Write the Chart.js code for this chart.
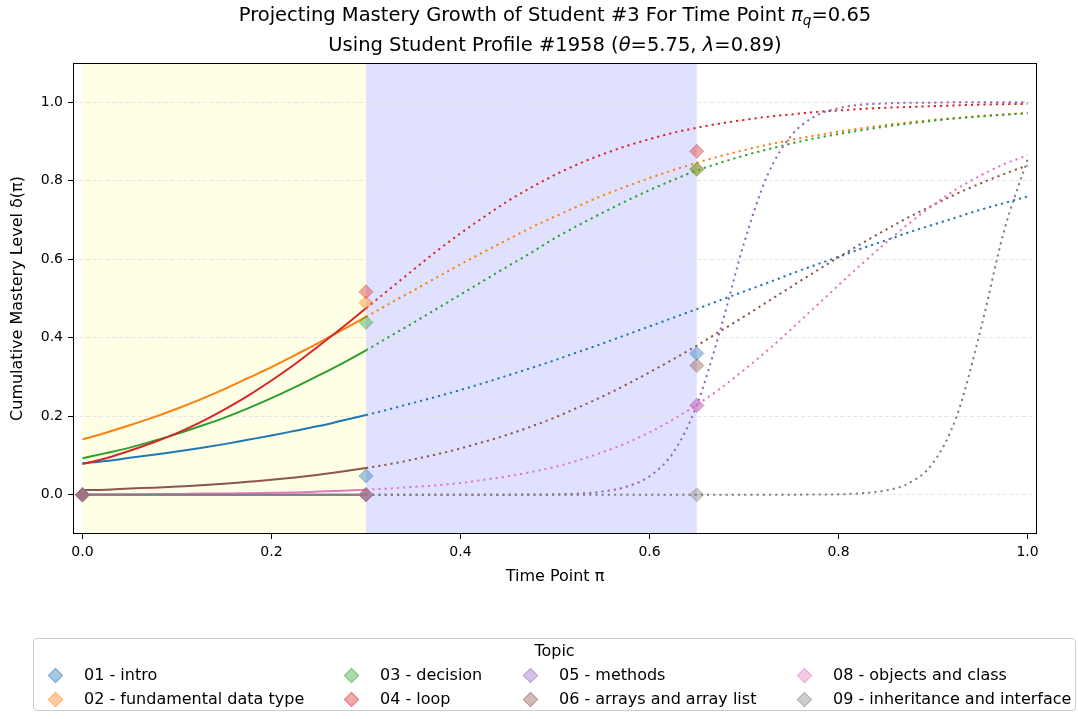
<!DOCTYPE html>
<html>
<head>
<meta charset="utf-8">
<script src="https://cdn.jsdelivr.net/npm/chart.js@4.4.1/dist/chart.umd.min.js"></script>
<style>
  html, body { margin: 0; padding: 0; background: #fff; }
  #wrap { position: relative; width: 1078px; height: 719px; overflow: hidden; font-family: 'DejaVu Sans', sans-serif; color: #000; }
  #c { position: absolute; left: 0; top: 0; }
  .ttl { position: absolute; left: 0; width: 1110px; text-align: center; font-size: 19.5px; line-height: 24px; white-space: nowrap; }
  .ttl sub { font-size: 70%; vertical-align: -0.3em; line-height: 0; font-style: italic; }
  #legbox { position: absolute; left: 33px; top: 638px; width: 1041px; height: 71px; border: 1px solid #cccccc; border-radius: 4px; background: rgba(255,255,255,0.8); }
  .legtitle { position: absolute; left: 33px; width: 1043px; text-align: center; font-size: 16px; line-height: 20px; }
  .legtext { position: absolute; font-size: 16px; line-height: 20px; white-space: nowrap; }
  .legmark { position: absolute; width: 11px; height: 11px; transform: rotate(45deg); box-sizing: border-box; }
</style>
</head>
<body>
<div id="wrap">
  <canvas id="c" width="1078" height="719"></canvas>
  <div class="ttl" style="top:3px">Projecting Mastery Growth of Student #3 For Time Point <i>π</i><sub>q</sub>=0.65</div>
  <div class="ttl" style="top:33px">Using Student Profile #1958 (<i>θ</i>=5.75, <i>λ</i>=0.89)</div>
  <div id="legbox"></div>
  <div class="legtitle" style="top:641px">Topic</div>
  <div id="legitems"></div>
</div>
<script>
// ---------------- data ----------------
const xs = [0, 0.025, 0.05, 0.075, 0.1, 0.125, 0.15, 0.175, 0.2, 0.225, 0.25, 0.275, 0.3, 0.325, 0.35, 0.375, 0.4, 0.425, 0.45, 0.475, 0.5, 0.525, 0.55, 0.575, 0.6, 0.625, 0.65, 0.675, 0.7, 0.725, 0.75, 0.775, 0.8, 0.825, 0.85, 0.875, 0.9, 0.925, 0.95, 0.975, 1.0];

const topicNames = ['01 - intro', '02 - fundamental data type', '03 - decision', '04 - loop', '05 - methods', '06 - arrays and array list', '08 - objects and class', '09 - inheritance and interface'];
const topicColors = ['#1f77b4', '#ff7f0e', '#2ca02c', '#d62728', '#9467bd', '#8c564b', '#e377c2', '#7f7f7f'];

const intro = [0.080, 0.086, 0.094, 0.102, 0.110, 0.119, 0.129, 0.140, 0.151, 0.163, 0.175, 0.189, 0.203, 0.218, 0.234, 0.250, 0.267, 0.285, 0.304, 0.323, 0.343, 0.364, 0.385, 0.407, 0.429, 0.451, 0.473, 0.496, 0.518, 0.540, 0.563, 0.585, 0.606, 0.628, 0.648, 0.669, 0.688, 0.707, 0.726, 0.743, 0.760];
const fundamental = [0.141, 0.158, 0.177, 0.197, 0.219, 0.243, 0.269, 0.297, 0.325, 0.356, 0.387, 0.420, 0.453, 0.487, 0.520, 0.554, 0.587, 0.619, 0.650, 0.681, 0.709, 0.736, 0.762, 0.785, 0.807, 0.827, 0.846, 0.863, 0.878, 0.892, 0.904, 0.915, 0.925, 0.934, 0.942, 0.949, 0.955, 0.960, 0.965, 0.969, 0.973];
const decision = [0.093, 0.106, 0.120, 0.137, 0.155, 0.175, 0.196, 0.220, 0.246, 0.274, 0.304, 0.335, 0.368, 0.403, 0.438, 0.474, 0.510, 0.546, 0.582, 0.617, 0.654, 0.687, 0.718, 0.748, 0.776, 0.802, 0.826, 0.846, 0.864, 0.880, 0.895, 0.908, 0.919, 0.929, 0.938, 0.946, 0.953, 0.959, 0.964, 0.968, 0.972];
const loop = [0.078, 0.093, 0.112, 0.133, 0.157, 0.185, 0.217, 0.252, 0.291, 0.333, 0.379, 0.426, 0.475, 0.524, 0.573, 0.621, 0.666, 0.708, 0.748, 0.783, 0.815, 0.843, 0.867, 0.888, 0.906, 0.922, 0.935, 0.946, 0.955, 0.963, 0.969, 0.975, 0.979, 0.983, 0.986, 0.988, 0.990, 0.992, 0.994, 0.995, 0.996];
const methods = [0, 0, 0, 0, 0, 0, 0, 0, 0, 0, 0, 0, 0, 0, 0, 0, 0, 0, 0.0002, 0.0005, 0.001, 0.003, 0.008, 0.020, 0.047, 0.107, 0.228, 0.421, 0.641, 0.815, 0.915, 0.964, 0.985, 0.994, 0.997, 0.999, 0.999, 1.0, 1.0, 1.0, 1.0];
const arrays = [0.012, 0.013, 0.016, 0.018, 0.021, 0.024, 0.028, 0.033, 0.038, 0.044, 0.051, 0.059, 0.068, 0.078, 0.090, 0.103, 0.118, 0.135, 0.153, 0.174, 0.197, 0.223, 0.250, 0.280, 0.312, 0.345, 0.380, 0.417, 0.454, 0.492, 0.530, 0.568, 0.605, 0.641, 0.675, 0.708, 0.738, 0.767, 0.793, 0.817, 0.839];
const objects = [0.001, 0.001, 0.001, 0.002, 0.002, 0.003, 0.003, 0.004, 0.005, 0.006, 0.008, 0.010, 0.013, 0.016, 0.020, 0.024, 0.030, 0.038, 0.047, 0.058, 0.071, 0.088, 0.108, 0.131, 0.159, 0.192, 0.229, 0.271, 0.318, 0.368, 0.422, 0.478, 0.534, 0.589, 0.642, 0.692, 0.738, 0.779, 0.813, 0.842, 0.865];
const inheritance = [0, 0, 0, 0, 0, 0, 0, 0, 0, 0, 0, 0, 0, 0, 0, 0, 0, 0, 0, 0, 0, 0, 0, 0, 0, 0, 0, 0, 0, 0, 0.0002, 0.0005, 0.001, 0.004, 0.011, 0.030, 0.081, 0.200, 0.417, 0.671, 0.854];

// observed points
const obsTimes = [0, 0.3, 0.65];
const obsIntro = [0, 0.048, 0.36];
const obsFundamental = [0, 0.489, 0.83];
const obsDecision = [0, 0.439, 0.829];
const obsLoop = [0, 0.517, 0.875];
const obsMethods = [0, 0, 0.228];
const obsArrays = [0, 0, 0.329];
const obsObjects = [0, 0, 0.227];
const obsInheritance = [0, 0, 0];

// shaded phases and axes
const lastObserved = 0.3;
const queryPoint = 0.65;
const xTicks = [0, 0.2, 0.4, 0.6, 0.8, 1.0];
const yTicks = [0, 0.2, 0.4, 0.6, 0.8, 1.0];
const xLimits = [-0.01, 1.01];
const yLimits = [-0.1, 1.1];

// ---------------- build ----------------
const curves = [intro, fundamental, decision, loop, methods, arrays, objects, inheritance];
const observations = [obsIntro, obsFundamental, obsDecision, obsLoop, obsMethods, obsArrays, obsObjects, obsInheritance];

function rgba(hex, a) {
  const n = parseInt(hex.slice(1), 16);
  return `rgba(${(n >> 16) & 255},${(n >> 8) & 255},${n & 255},${a})`;
}

const datasets = [];
curves.forEach((ys, i) => {
  datasets.push({
    type: 'line',
    label: topicNames[i],
    data: xs.map((x, k) => ({ x: x, y: ys[k] })),
    borderColor: topicColors[i],
    borderWidth: 2,
    pointRadius: 0,
    pointHoverRadius: 0,
    fill: false,
    cubicInterpolationMode: 'monotone',
    order: 40 - i,
    segment: {
      borderDash: ctx => (ctx.p0.parsed.x >= lastObserved - 1e-9 ? [2.2, 4] : undefined)
    }
  });
});
observations.forEach((ys, i) => {
  datasets.push({
    type: 'scatter',
    label: topicNames[i] + ' (observed)',
    data: obsTimes.map((x, k) => ({ x: x, y: ys[k] })),
    pointStyle: 'rectRot',
    pointRadius: 7,
    pointHoverRadius: 7,
    backgroundColor: rgba(topicColors[i], 0.4),
    borderColor: rgba(topicColors[i], 0.4),
    borderWidth: 1,
    order: 20 - i
  });
});

const bands = [
  { from: 0, to: lastObserved, color: 'rgba(255,255,0,0.1)' },
  { from: lastObserved, to: queryPoint, color: 'rgba(0,0,255,0.12)' }
];

const bandPlugin = {
  id: 'bands',
  beforeDraw(chart) {
    const { ctx, chartArea: a, scales: { x } } = chart;
    ctx.save();
    bands.forEach(b => {
      const x0 = x.getPixelForValue(b.from);
      const x1 = x.getPixelForValue(b.to);
      ctx.fillStyle = b.color;
      ctx.fillRect(x0, a.top, x1 - x0, a.bottom - a.top);
    });
    ctx.restore();
  }
};

const framePlugin = {
  id: 'frame',
  afterDraw(chart) {
    const { ctx, chartArea: a } = chart;
    ctx.save();
    ctx.strokeStyle = '#000';
    ctx.lineWidth = 1;
    const l = Math.round(a.left) + 0.5, t = Math.round(a.top) + 0.5;
    const r = Math.round(a.right) - 0.5, b = Math.round(a.bottom) - 0.5;
    ctx.strokeRect(l, t, r - l, b - t);
    ctx.restore();
  }
};

const font14 = { family: "'DejaVu Sans', sans-serif", size: 14 };
const font16 = { family: "'DejaVu Sans', sans-serif", size: 16 };

new Chart(document.getElementById('c'), {
  type: 'line',
  data: { datasets: datasets },
  options: {
    responsive: false,
    animation: false,
    devicePixelRatio: 1,
    layout: { padding: { left: 0, right: 41, top: 63, bottom: 132.4 } },
    plugins: {
      legend: { display: false },
      title: { display: false },
      tooltip: { enabled: false }
    },
    scales: {
      x: {
        type: 'linear',
        min: xLimits[0],
        max: xLimits[1],
        afterBuildTicks: s => { s.ticks = xTicks.map(v => ({ value: v })); },
        afterFit: s => { s.height = 52.6; },
        ticks: { callback: v => Number(v).toFixed(1), color: '#000', font: font14, padding: 5, maxRotation: 0, autoSkip: false },
        grid: { drawOnChartArea: false, drawTicks: true, tickLength: 5, tickColor: '#000', tickWidth: 1 },
        border: { display: false },
        title: { display: true, text: 'Time Point π', color: '#000', font: font16, padding: { top: 0, bottom: 0 } }
      },
      y: {
        type: 'linear',
        min: yLimits[0],
        max: yLimits[1],
        afterBuildTicks: s => { s.ticks = yTicks.map(v => ({ value: v })); },
        afterFit: s => { s.width = 73; },
        ticks: { callback: v => Number(v).toFixed(1), color: '#000', font: font14, padding: 5, autoSkip: false },
        grid: { drawOnChartArea: true, color: '#e4e4e4', lineWidth: 1, drawTicks: true, tickLength: 5, tickColor: '#000', tickWidth: 1, tickBorderDash: [] },
        border: { display: false, dash: [4, 2.5] },
        title: { display: true, text: 'Cumulative Mastery Level δ(π)', color: '#000', font: font16, padding: { top: 8.4, bottom: 0 } }
      }
    }
  },
  plugins: [bandPlugin, framePlugin]
});

// ---------------- legend (matplotlib style, 4 columns, column-major) ----------------
const legendMarkerX = [55, 351, 530, 804];
const legendRowY = [675, 699];
const legendTextGap = 29;
const legHost = document.getElementById('legitems');
topicNames.forEach((name, i) => {
  const col = Math.floor(i / 2), row = i % 2;
  const mx = legendMarkerX[col], my = legendRowY[row];
  const m = document.createElement('div');
  m.className = 'legmark';
  m.style.left = (mx - 5.5) + 'px';
  m.style.top = (my - 5.5) + 'px';
  m.style.background = rgba(topicColors[i], 0.4);
  m.style.border = '1px solid ' + rgba(topicColors[i], 0.4);
  legHost.appendChild(m);
  const t = document.createElement('div');
  t.className = 'legtext';
  t.style.left = (mx + legendTextGap) + 'px';
  t.style.top = (my - 10) + 'px';
  t.textContent = name;
  legHost.appendChild(t);
});
</script>
</body>
</html>
